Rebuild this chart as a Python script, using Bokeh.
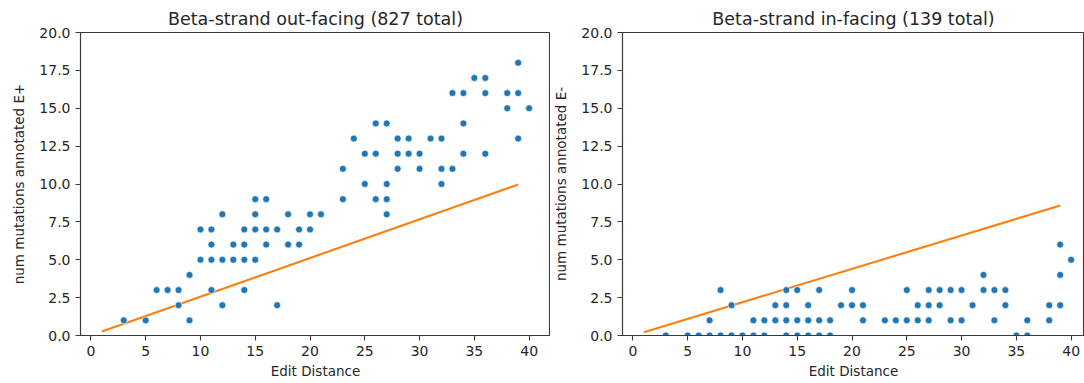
from bokeh.plotting import figure
from bokeh.layouts import row
from bokeh.models import FixedTicker, PrintfTickFormatter, Range1d
from bokeh.embed import file_html
from bokeh.resources import INLINE

# ---- data: Beta-strand out-facing (E+) ----
out_dist = [3, 5, 6, 7, 8, 8, 9, 9, 10, 10,
            11, 11, 11, 11, 12, 12, 12, 13, 13,
            14, 14, 14, 14, 15, 15, 15, 15, 16, 16, 16,
            17, 17, 18, 18, 19, 19, 20, 20, 21,
            23, 23, 24, 25, 25, 26, 26, 26, 27, 27, 27, 27,
            28, 28, 28, 29, 29, 30, 30, 31, 32, 32, 32,
            33, 33, 34, 34, 34, 35, 36, 36, 36, 38, 38, 39, 39, 39, 40]
out_count = [1, 1, 3, 3, 3, 2, 4, 1, 7, 5,
             7, 6, 5, 3, 8, 5, 2, 6, 5,
             7, 6, 5, 3, 9, 8, 7, 5, 9, 7, 6,
             7, 2, 8, 6, 7, 6, 8, 7, 8,
             11, 9, 13, 12, 10, 14, 12, 9, 14, 10, 9, 8,
             13, 12, 11, 13, 12, 12, 11, 13, 13, 11, 10,
             16, 11, 16, 14, 12, 17, 17, 16, 12, 16, 15, 18, 16, 13, 15]
out_fit_x = [1, 39]
out_fit_y = [0.26, 9.97]

# ---- data: Beta-strand in-facing (E-) ----
in_dist = [3, 5, 6, 7, 7, 8, 8, 9, 9, 10,
           11, 11, 12, 12, 13, 13, 14, 14, 14, 14,
           15, 15, 15, 16, 16, 16, 17, 17, 17, 18, 18,
           19, 20, 20, 21, 21, 23, 24, 25, 25, 26, 26,
           27, 27, 27, 28, 28, 29, 29, 30, 30, 31, 32, 32,
           33, 33, 34, 34, 35, 36, 36, 38, 38, 39, 39, 39, 40]
in_count = [0, 0, 0, 1, 0, 3, 0, 2, 0, 0,
            1, 0, 1, 0, 2, 1, 3, 2, 1, 0,
            3, 1, 0, 2, 1, 0, 3, 1, 0, 1, 0,
            2, 3, 2, 2, 1, 1, 1, 3, 1, 2, 1,
            3, 2, 1, 3, 2, 3, 1, 3, 1, 2, 4, 3,
            3, 1, 3, 2, 0, 1, 0, 2, 1, 6, 4, 2, 5]
in_fit_x = [1, 39]
in_fit_y = [0.22, 8.58]

x_ticks = [0, 5, 10, 15, 20, 25, 30, 35, 40]
y_ticks = [0, 2.5, 5, 7.5, 10, 12.5, 15, 17.5, 20]

FONT = "DejaVu Sans"
TXT = "#262626"
SPINE = "#3a3a3a"


def make_panel(title, ylabel, xs, ys, fx, fy, x_end, frame_w, ml, mr):
    p = figure(frame_width=frame_w, frame_height=303,
               x_range=Range1d(-0.95, x_end), y_range=Range1d(0, 20),
               output_backend="svg", toolbar_location=None,
               min_border_left=ml, min_border_right=mr,
               min_border_top=32, min_border_bottom=46,
               background_fill_color="white", border_fill_color="white")
    p.title.text = title
    p.title.align = "center"
    p.title.text_font = FONT
    p.title.text_font_size = "17.5px"
    p.title.text_font_style = "normal"
    p.title.text_color = TXT
    p.title.standoff = 7
    p.outline_line_color = SPINE
    p.outline_line_width = 1.1
    p.xgrid.visible = False
    p.ygrid.visible = False

    p.line(fx, fy, line_color="#ff7f0e", line_width=2.1)
    p.scatter(xs, ys, size=7, fill_color="#1f77b4", line_color="white",
              line_width=0.7)

    for ax in (p.xaxis[0], p.yaxis[0]):
        ax.axis_line_color = SPINE
        ax.axis_line_width = 1.1
        ax.major_tick_line_color = SPINE
        ax.major_tick_line_width = 1.1
        ax.major_tick_out = 5
        ax.major_tick_in = 0
        ax.minor_tick_line_color = None
        ax.major_label_text_font = FONT
        ax.major_label_text_font_size = "14px"
        ax.major_label_text_color = TXT
        ax.axis_label_text_font = FONT
        ax.axis_label_text_font_size = "13.5px"
        ax.axis_label_text_font_style = "normal"
        ax.axis_label_text_color = TXT
    p.xaxis.ticker = FixedTicker(ticks=x_ticks)
    p.yaxis.ticker = FixedTicker(ticks=y_ticks)
    p.yaxis.formatter = PrintfTickFormatter(format="%.1f")
    p.xaxis.axis_label = "Edit Distance"
    p.yaxis.axis_label = ylabel
    p.xaxis.major_label_standoff = 5
    p.xaxis.axis_label_standoff = 4
    p.yaxis.major_label_standoff = 5
    p.yaxis.axis_label_standoff = 9
    return p


p1 = make_panel("Beta-strand out-facing (827 total)", "num mutations annotated E+",
                out_dist, out_count, out_fit_x, out_fit_y, 41.95, 470, 80, 0)
p2 = make_panel("Beta-strand in-facing (139 total)", "num mutations annotated E-",
                in_dist, in_count, in_fit_x, in_fit_y, 41.22, 462, 72, 0)

layout = row(p1, p2, spacing=0)
open("out.html", "w").write(file_html(layout, INLINE))
